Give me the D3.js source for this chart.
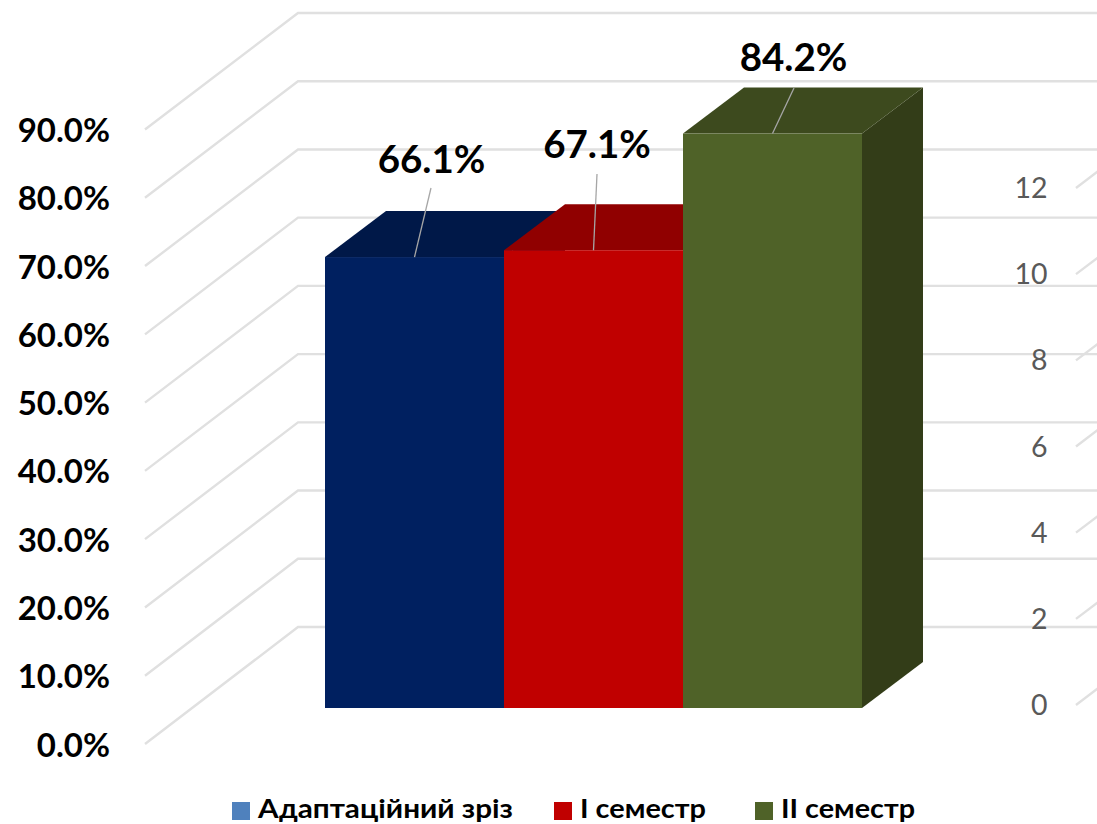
<!DOCTYPE html>
<html><head><meta charset="utf-8">
<script src="https://cdn.jsdelivr.net/npm/d3@7"></script>
<style>html,body{margin:0;padding:0;background:#fff;overflow:hidden}svg{display:block}text{font-family:Lato,"Open Sans",sans-serif}</style>
</head><body><svg id="c" width="1097" height="824"></svg>
<script>
const categories = ["Адаптаційний зріз", "I семестр", "II семестр"];
const values = [66.1, 67.1, 84.2];
const valueLabels = ["66.1%", "67.1%", "84.2%"];
const primaryTicks = [0, 10, 20, 30, 40, 50, 60, 70, 80, 90];
const secondaryTicks = [0, 2, 4, 6, 8, 10, 12];

const frontColors = ["#002060", "#C00000", "#4F6228"];
const topColors = ["#001848", "#900000", "#3D4A1E"];
const sideColors = ["#001540", "#800000", "#333D18"];
const legendColors = ["#4F81BD", "#C00000", "#4F6228"];

const svg = d3.select("#c");
const wallFront = d3.scaleLinear().domain([0, 90]).range([744, 129.5]);
const wallBack = d3.scaleLinear().domain([0, 90]).range([627, 13]);
const barY = d3.scaleLinear().domain([0, 90]).range([708, 94]);
const barX = d3.scaleBand().domain(categories).range([325, 862]).padding(0);
const rightY = d3.scaleLinear().domain([0, 12]).range([705, 188]);
const line = d3.line();
const grid = "#E0E0E0";
const wall = {x0: 145, x1: 298};
const depth = {dx: 61, dy: 46};

// back wall and left wall gridlines
primaryTicks.forEach(t => {
  svg.append("path").attr("d", line([[wall.x0, wallFront(t)], [wall.x1, wallBack(t)], [1097, wallBack(t)]]))
    .attr("fill", "none").attr("stroke", grid).attr("stroke-width", 2.4);
});

// secondary axis stubs and labels
secondaryTicks.forEach(t => {
  const y = rightY(t);
  svg.append("path").attr("d", line([[1076, y], [1076 + 30, y - 30 * 116 / 153]]))
    .attr("fill", "none").attr("stroke", grid).attr("stroke-width", 2.4);
  svg.append("text").attr("x", 1047.5).attr("y", y + 10).attr("text-anchor", "end")
    .attr("font-size", 28.5).attr("fill", "#595959").text(t);
});

// primary axis labels
primaryTicks.forEach(t => {
  svg.append("text").attr("x", 110).attr("y", wallFront(t) + 12.5).attr("text-anchor", "end")
    .attr("font-size", 33).attr("font-weight", 700).attr("fill", "#000").text(t.toFixed(1) + "%");
});

// bars
categories.forEach((c, i) => {
  const x0 = barX(c), x1 = x0 + barX.bandwidth(), yt = barY(values[i]), yb = barY(0);
  const {dx, dy} = depth;
  svg.append("path").attr("d", line([[x1, yt], [x1 + dx, yt - dy], [x1 + dx, yb - dy], [x1, yb]]) + "Z").attr("fill", sideColors[i]);
  svg.append("path").attr("d", line([[x0, yt], [x0 + dx, yt - dy], [x1 + dx, yt - dy], [x1, yt]]) + "Z").attr("fill", topColors[i]);
  svg.append("rect").attr("x", x0).attr("y", yt).attr("width", x1 - x0).attr("height", yb - yt).attr("fill", frontColors[i]);
});

// data labels with leader lines
const labelLayout = [
  {x: 431.5, y: 173, lx: 431, ly: 188},
  {x: 597, y: 158, lx: 597, ly: 174},
  {x: 793.5, y: 71, lx: 794, ly: 88}
];
categories.forEach((c, i) => {
  const p = labelLayout[i];
  svg.append("path").attr("d", line([[p.lx, p.ly], [barX(c) + barX.bandwidth() / 2, barY(values[i])]]))
    .attr("stroke", "#A6A6A6").attr("stroke-width", 1.3).attr("fill", "none");
  svg.append("text").attr("x", p.x).attr("y", p.y).attr("text-anchor", "middle")
    .attr("font-size", 38.5).attr("font-weight", 700).attr("fill", "#000").text(valueLabels[i]);
});

// legend
const legendX = [232, 554, 755];
const legendTextWidth = [255, 126, 134];
categories.forEach((c, i) => {
  svg.append("rect").attr("x", legendX[i]).attr("y", 802).attr("width", 18).attr("height", 18).attr("fill", legendColors[i]);
  svg.append("text").attr("x", legendX[i] + 26).attr("y", 818)
    .attr("font-size", 27).attr("font-weight", 700).attr("fill", "#000")
    .attr("textLength", legendTextWidth[i]).attr("lengthAdjust", "spacingAndGlyphs").text(c);
});
</script></body></html>
